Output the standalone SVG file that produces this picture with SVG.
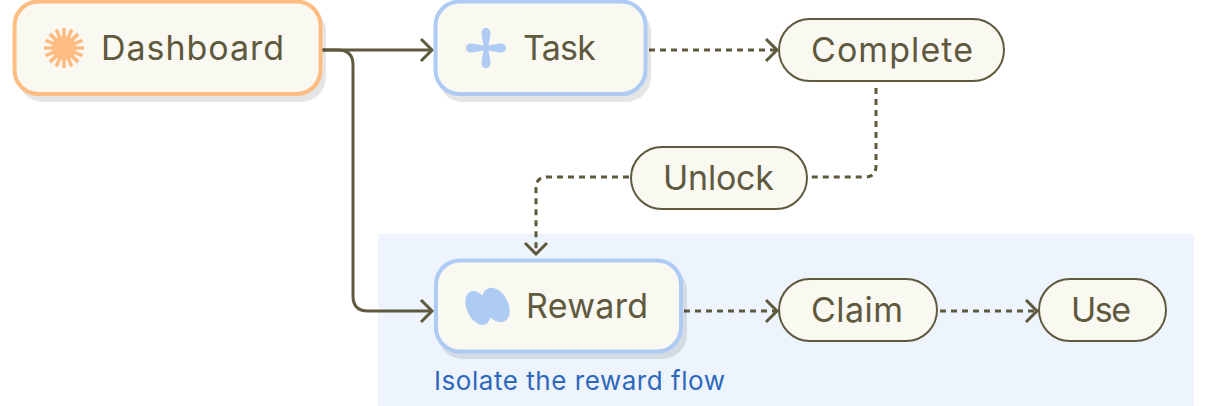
<svg xmlns="http://www.w3.org/2000/svg" width="1206" height="406" viewBox="0 0 1206 406">
<style>
text{font-family:"Inter","Noto Sans","Liberation Sans",sans-serif;fill:#5f593e}
.t{font-size:34px}
.box{fill:#f9f8f1;stroke-width:4}
.pill{fill:#f9f8f1;stroke:#5f593e;stroke-width:2}
.sh{fill:#000;fill-opacity:.1}
.c{fill:none;stroke:#5f593e;stroke-width:3}
.d{stroke-dasharray:6 5}
.h{fill:none;stroke:#5f593e;stroke-width:3}
</style>
<defs>
<marker id="a" markerUnits="userSpaceOnUse" markerWidth="16" markerHeight="26" refX="13" refY="13" orient="auto"><path d="M2 2L13 13L2 24" class="h"/></marker>
<path id="petal" fill="#aecbf4" d="M484 50C484 44 481.500 38 481.500 33C481.500 30 483.500 28 486 28C488.500 28 490.500 30 490.500 33C490.500 38 488 44 488 50Z"/>
</defs>
<rect id="region" x="378" y="234" width="816" height="172" fill="#edf4fd"/>
<g id="connectors">
<path class="c" marker-end="url(#a)" d="M322 50H432"/>
<path class="c" marker-end="url(#a)" d="M322 50H338Q353 50 353 65V296Q353 311 368 311H432"/>
<path class="c d" marker-end="url(#a)" d="M649 50H777"/>
<path class="c d" d="M876 88V166Q876 177 865 177H809"/>
<path class="c d" marker-end="url(#a)" d="M629 177H547Q536 177 536 188V254"/>
<path class="c d" marker-end="url(#a)" d="M684 311H777"/>
<path class="c d" marker-end="url(#a)" d="M940 311H1037"/>
</g>
<g id="dashboard">
<rect class="sh" x="18" y="7" width="308" height="95" rx="25"/>
<rect class="box" x="14.500" y="1.500" width="306" height="92.500" rx="24" stroke="#fdbc82"/>
<circle cx="64" cy="48" r="12" fill="#fdbc82"/>
<path stroke="#fdbc82" stroke-width="3.600" d="M44 48H84M64 28V68M49.860 33.860L78.140 62.140M78.140 33.860L49.860 62.140M45.520 40.350L82.480 55.650M45.520 55.650L82.480 40.350M56.350 29.520L71.650 66.480M71.650 29.520L56.350 66.480"/>
<text x="101" y="60" class="t" textLength="183">Dashboard</text>
</g>
<g id="task">
<rect class="sh" x="438" y="7" width="213" height="95" rx="25"/>
<rect class="box" x="435.500" y="1.500" width="210" height="92.500" rx="24" stroke="#aecbf4"/>
<use href="#petal"/>
<use href="#petal" transform="rotate(90 486 48)"/>
<use href="#petal" transform="rotate(180 486 48)"/>
<use href="#petal" transform="rotate(270 486 48)"/>
<text x="523" y="60" class="t" textLength="73">Task</text>
</g>
<g id="complete">
<rect class="pill" x="779" y="19" width="225" height="62" rx="31"/>
<text x="811" y="62" class="t" textLength="162">Complete</text>
</g>
<g id="unlock">
<rect class="pill" x="631" y="147" width="176" height="62" rx="31"/>
<text x="663" y="190" class="t" textLength="111">Unlock</text>
</g>
<g id="reward">
<rect class="sh" x="438" y="266" width="249" height="93" rx="25"/>
<rect class="box" x="436" y="260.500" width="245" height="91" rx="24" stroke="#aecbf4"/>
<ellipse cx="478" cy="308" rx="11" ry="18" transform="rotate(-25 478 308)" fill="#aecbf4"/>
<ellipse cx="496" cy="305" rx="12" ry="18.500" transform="rotate(-28 496 305)" fill="#aecbf4"/>
<text x="526" y="318" class="t" textLength="122">Reward</text>
</g>
<g id="claim">
<rect class="pill" x="779" y="279" width="158" height="62" rx="31"/>
<text x="811" y="322" class="t" textLength="92">Claim</text>
</g>
<g id="use">
<rect class="pill" x="1039" y="279" width="127" height="62" rx="31"/>
<text x="1071" y="322" class="t" textLength="60">Use</text>
</g>
<text id="note" x="434" y="390" font-size="26" textLength="291" style="fill:#2d68bc">Isolate the reward flow</text>
</svg>
